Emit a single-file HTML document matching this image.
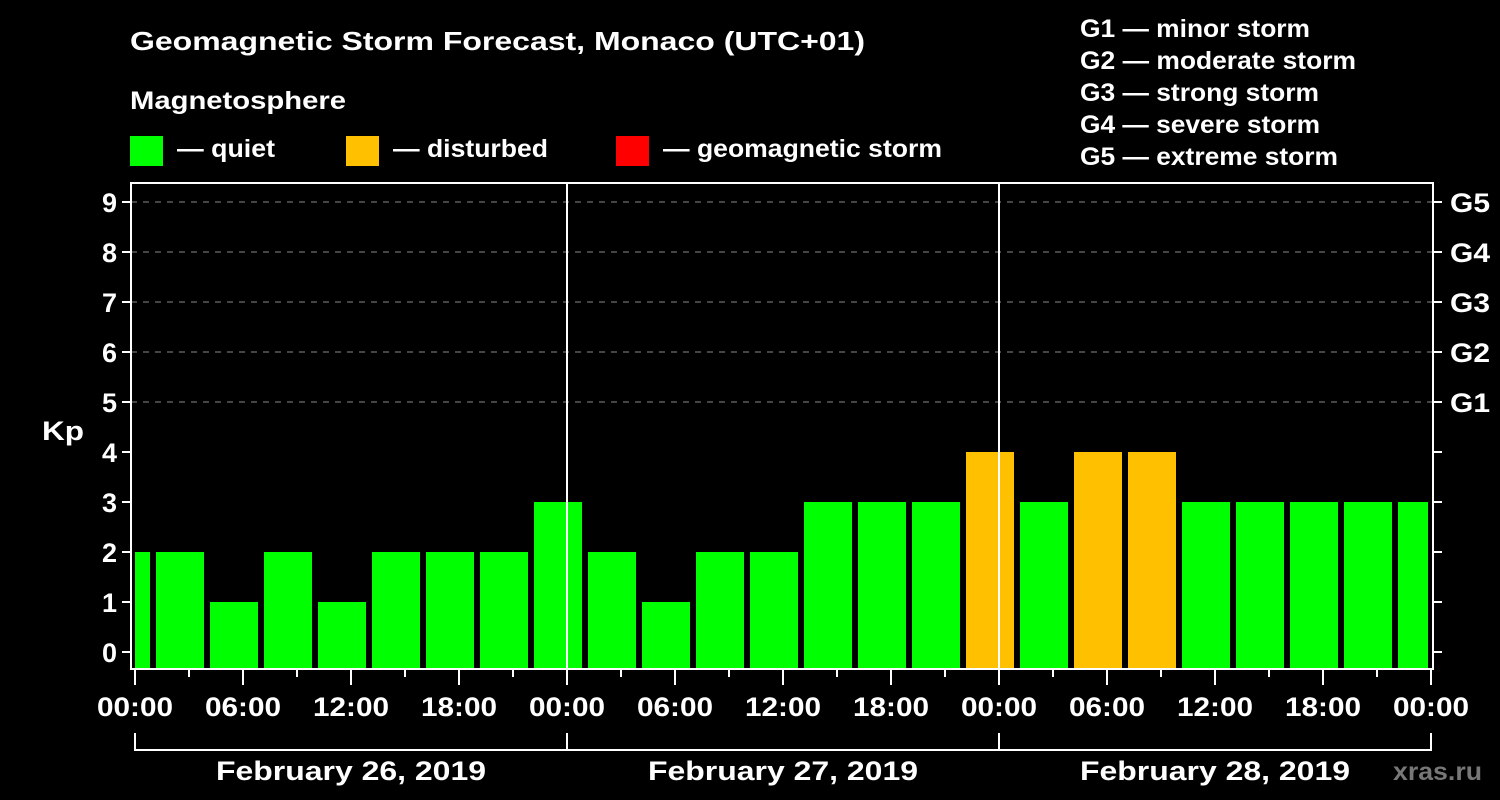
<!DOCTYPE html>
<html><head><meta charset="utf-8"><style>
body{margin:0;background:#000;}
svg{display:block;font-family:"Liberation Sans",sans-serif;font-weight:bold;fill:#fff;}
</style></head><body>
<svg width="1500" height="800" xmlns="http://www.w3.org/2000/svg">
<rect width="1500" height="800" fill="#000"/>
<text x="130" y="50" font-size="26" textLength="735" lengthAdjust="spacingAndGlyphs">Geomagnetic Storm Forecast, Monaco (UTC+01)</text>
<text x="130" y="109" font-size="25" textLength="216" lengthAdjust="spacingAndGlyphs">Magnetosphere</text>
<g>
<rect x="130" y="136" width="33" height="30" fill="#00ff00"/>
<text x="177" y="157" font-size="25" textLength="98" lengthAdjust="spacingAndGlyphs">— quiet</text>
<rect x="346" y="136" width="33" height="30" fill="#ffc000"/>
<text x="393" y="157" font-size="25" textLength="155" lengthAdjust="spacingAndGlyphs">— disturbed</text>
<rect x="616" y="136" width="33" height="30" fill="#ff0000"/>
<text x="663" y="157" font-size="25" textLength="279" lengthAdjust="spacingAndGlyphs">— geomagnetic storm</text>
</g>
<g font-size="25">
<text x="1080" y="37" textLength="230" lengthAdjust="spacingAndGlyphs">G1 — minor storm</text>
<text x="1080" y="69" textLength="276" lengthAdjust="spacingAndGlyphs">G2 — moderate storm</text>
<text x="1080" y="101" textLength="239" lengthAdjust="spacingAndGlyphs">G3 — strong storm</text>
<text x="1080" y="133" textLength="240" lengthAdjust="spacingAndGlyphs">G4 — severe storm</text>
<text x="1080" y="165" textLength="258" lengthAdjust="spacingAndGlyphs">G5 — extreme storm</text>
</g>
<text x="42" y="440" font-size="27" textLength="42" lengthAdjust="spacingAndGlyphs">Kp</text>
<text x="1393" y="780" font-size="25" textLength="89" lengthAdjust="spacingAndGlyphs" style="fill:#777">xras.ru</text>
<g id="plot"></g>
</svg>
<script>
const kpValues=[2,2,1,2,1,2,2,2,3,2,1,2,2,3,3,3,4,3,4,4,3,3,3,3,3];
const yTicks=[0,1,2,3,4,5,6,7,8,9];
const gLabels=["G1","G2","G3","G4","G5"];
const timeLabels=["00:00","06:00","12:00","18:00","00:00","06:00","12:00","18:00","00:00","06:00","12:00","18:00","00:00"];
const dayLabels=["February 26, 2019","February 27, 2019","February 28, 2019"];
const NS="http://www.w3.org/2000/svg";
const g=document.getElementById('plot');
const X0=135,PXH=18,Y0=652,PXK=50,L=131,R=1433,T=183,B=669;
const xs=h=>X0+h*PXH, ys=k=>Y0-k*PXK;
function mk(t,a,p){const e=document.createElementNS(NS,t);for(const k in a)e.setAttribute(k,a[k]);(p||g).appendChild(e);return e;}
for(let k=5;k<=9;k++){const e=mk('line',{x1:L,x2:R,y1:ys(k),y2:ys(k),stroke:'#888','stroke-width':1,'stroke-dasharray':'6,6'});

}
kpValues.forEach((v,i)=>{let h0=-2+3*i,h1=h0+3;let x1=Math.max(xs(h0)+3,X0),x2=Math.min(xs(h1)-3,xs(72)-3);
const c=v>=5?'#ff0000':(v>=4?'#ffc000':'#00ff00');
const r=mk('rect',{x:x1,y:ys(v),width:x2-x1,height:668-ys(v),fill:c});

});
[24,48].forEach(h=>{const e=mk('line',{x1:xs(h),x2:xs(h),y1:T,y2:B,stroke:'#fff','stroke-width':2});

});
const f=mk('rect',{x:L,y:T,width:R-L,height:B-T,fill:'none',stroke:'#fff','stroke-width':2});


yTicks.forEach(k=>{mk('line',{x1:L-9,x2:L,y1:ys(k),y2:ys(k),stroke:'#fff','stroke-width':2});
mk('line',{x1:R,x2:R+9,y1:ys(k),y2:ys(k),stroke:'#fff','stroke-width':2});
const t=mk('text',{x:117,y:ys(k)+10,'font-size':27,'text-anchor':'end'});t.textContent=k;

});
gLabels.forEach((s,i)=>{const t=mk('text',{x:1450,y:ys(5+i)+10,'font-size':27,textLength:40,lengthAdjust:'spacingAndGlyphs'});t.textContent=s;

});
for(let h=0;h<=72;h+=3){const maj=h%6==0;mk('line',{x1:xs(h),x2:xs(h),y1:B,y2:B+(maj?16:8),stroke:'#fff','stroke-width':2});}
timeLabels.forEach((s,i)=>{const t=mk('text',{x:xs(i*6)-38,y:716,'font-size':27,textLength:76,lengthAdjust:'spacingAndGlyphs'});t.textContent=s;

});
mk('line',{x1:xs(0),x2:xs(72),y1:750,y2:750,stroke:'#fff','stroke-width':2});
for(let d=0;d<=3;d++)mk('line',{x1:xs(d*24),x2:xs(d*24),y1:733,y2:751,stroke:'#fff','stroke-width':2});
dayLabels.forEach((s,i)=>{const t=mk('text',{x:xs(i*24+12)-135,y:780,'font-size':27,textLength:270,lengthAdjust:'spacingAndGlyphs'});t.textContent=s;

});
</script>
</body></html>
